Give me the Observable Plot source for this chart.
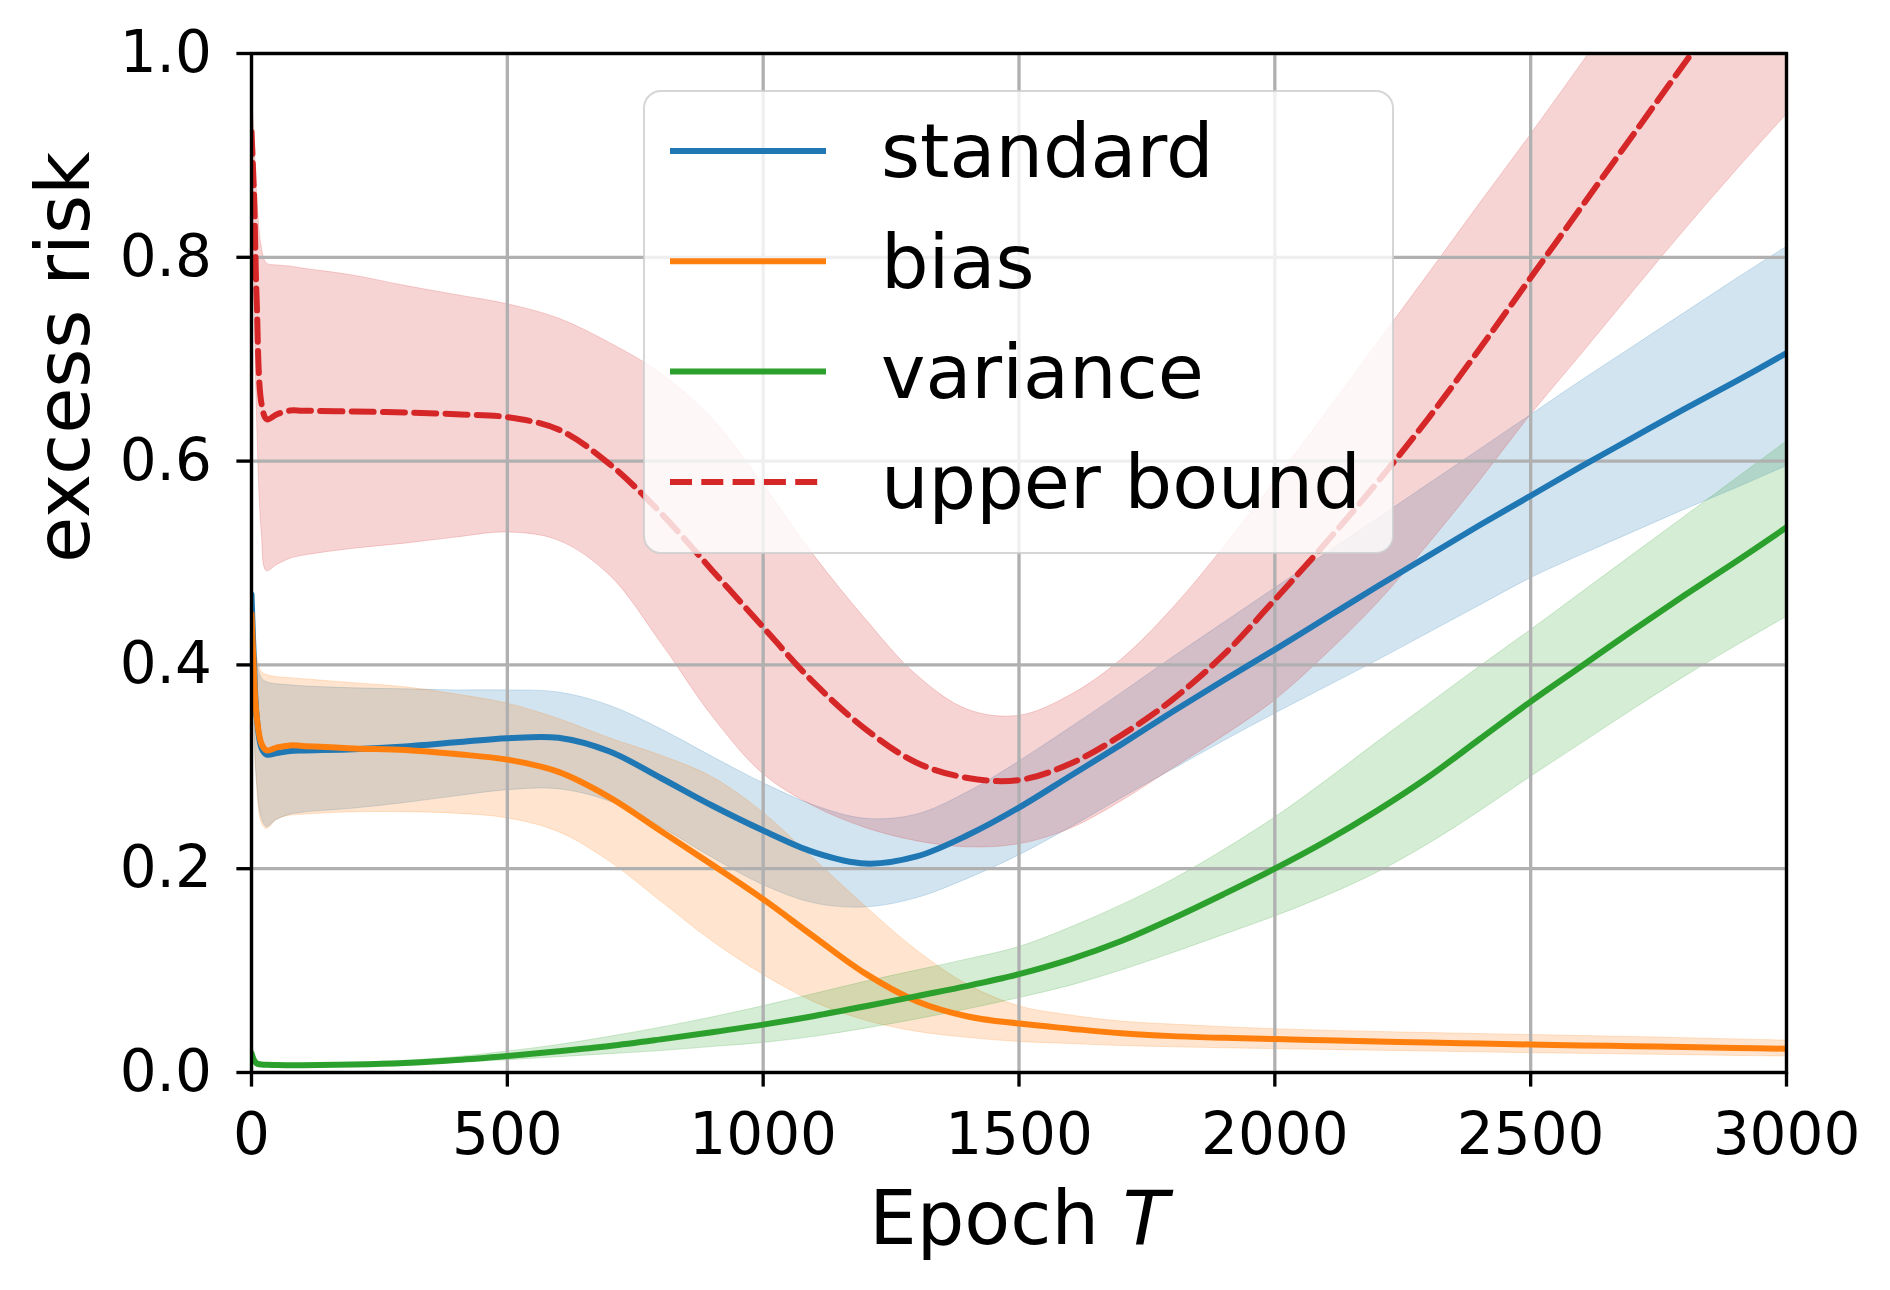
<!DOCTYPE html>
<html><head><meta charset="utf-8">
<script src="https://cdn.jsdelivr.net/npm/d3@7"></script>
<script src="https://cdn.jsdelivr.net/npm/@observablehq/plot@0.6"></script>
<style>
html,body{margin:0;padding:0;background:#fff;}
#wrap{position:relative;width:1890px;height:1290px;font-family:"DejaVu Sans";}
#legend{position:absolute;left:643px;top:90px;}
</style></head><body><div id="wrap"></div>
<script>
// ---- data ----
const epochs = [0,5,10,20,30,50,75,100,200,300,400,500,600,700,800,900,1000,1100,1200,1300,1400,1500,1600,1700,1800,1900,2000,2100,2200,2300,2400,2500,2600,2700,2800,2900,3000];

const standard   = [0.469,0.40,0.35,0.318,0.312,0.3135,0.3154,0.316,0.3173,0.320,0.324,0.328,0.3285,0.315,0.289,0.262,0.2375,0.216,0.205,0.212,0.233,0.260,0.291,0.322,0.354,0.385,0.415,0.446,0.477,0.507,0.537,0.566,0.595,0.623,0.651,0.678,0.706];
const standardLo = [0.465,0.36,0.29,0.25,0.241,0.248,0.253,0.255,0.259,0.2645,0.271,0.277,0.278,0.266,0.241,0.211,0.184,0.166,0.162,0.171,0.19,0.213,0.24,0.269,0.297,0.325,0.352,0.378,0.404,0.431,0.458,0.485,0.508,0.53,0.552,0.573,0.595];
const standardHi = [0.472,0.43,0.405,0.387,0.383,0.381,0.38,0.379,0.377,0.376,0.375,0.375,0.373,0.36,0.337,0.31,0.284,0.262,0.249,0.253,0.275,0.305,0.338,0.372,0.407,0.441,0.475,0.509,0.543,0.577,0.611,0.645,0.679,0.712,0.745,0.778,0.81];

const bias   = [0.45,0.39,0.35,0.322,0.316,0.319,0.321,0.3205,0.318,0.3165,0.3125,0.307,0.295,0.27,0.237,0.204,0.17,0.133,0.097,0.07,0.055,0.048,0.043,0.0385,0.0357,0.034,0.0328,0.0316,0.0305,0.0294,0.0284,0.0275,0.0266,0.0258,0.025,0.0241,0.0233];
const biasLo = [0.44,0.35,0.29,0.245,0.239,0.248,0.252,0.253,0.2554,0.2555,0.254,0.2495,0.236,0.207,0.168,0.129,0.096,0.069,0.051,0.04,0.034,0.03,0.028,0.026,0.0248,0.0238,0.023,0.0222,0.0214,0.0206,0.0198,0.019,0.0183,0.0177,0.017,0.0163,0.0157];
const biasHi = [0.46,0.43,0.41,0.393,0.39,0.388,0.387,0.386,0.382,0.378,0.371,0.362,0.347,0.328,0.311,0.29,0.255,0.209,0.163,0.12,0.086,0.065,0.056,0.05,0.047,0.0445,0.0425,0.041,0.0398,0.0387,0.0377,0.0368,0.0358,0.0348,0.0337,0.0325,0.0313];

const variance   = [0.019,0.012,0.009,0.0078,0.0075,0.0073,0.0072,0.0072,0.0078,0.0093,0.0122,0.0162,0.0208,0.026,0.0325,0.0395,0.047,0.0555,0.065,0.075,0.085,0.0965,0.111,0.129,0.151,0.175,0.2,0.227,0.257,0.29,0.327,0.364,0.399,0.434,0.468,0.501,0.535];
const varianceLo = [0.018,0.01,0.0075,0.0068,0.0065,0.0062,0.006,0.006,0.006,0.007,0.0095,0.012,0.015,0.018,0.021,0.025,0.029,0.035,0.043,0.052,0.062,0.073,0.085,0.1,0.117,0.135,0.153,0.173,0.196,0.224,0.256,0.29,0.323,0.356,0.388,0.418,0.447];
const varianceHi = [0.02,0.014,0.0105,0.0088,0.0085,0.0085,0.0085,0.0086,0.0095,0.0115,0.015,0.0205,0.027,0.035,0.044,0.054,0.065,0.077,0.089,0.1,0.111,0.123,0.142,0.164,0.189,0.218,0.25,0.286,0.324,0.361,0.398,0.434,0.471,0.508,0.545,0.582,0.619];

const bound   = [0.923,0.86,0.76,0.655,0.641,0.646,0.6496,0.6495,0.6486,0.6478,0.646,0.6431,0.631,0.597,0.549,0.493,0.437,0.382,0.337,0.304,0.289,0.287,0.303,0.331,0.366,0.41,0.464,0.52,0.579,0.642,0.71,0.78,0.85,0.92,0.99,1.06,1.13];
const boundLo = [0.91,0.8,0.66,0.53,0.492,0.498,0.504,0.507,0.514,0.519,0.525,0.53,0.522,0.488,0.422,0.35,0.293,0.261,0.24,0.227,0.221,0.224,0.239,0.266,0.298,0.33,0.365,0.41,0.46,0.518,0.58,0.645,0.705,0.766,0.826,0.884,0.94];
const boundHi = [0.96,0.93,0.87,0.81,0.794,0.792,0.791,0.789,0.782,0.772,0.763,0.754,0.74,0.716,0.686,0.642,0.577,0.507,0.445,0.39,0.356,0.35,0.37,0.405,0.455,0.515,0.58,0.647,0.715,0.783,0.852,0.92,0.99,1.06,1.13,1.2,1.27];

const seriesNames  = ["standard", "bias", "variance", "upper bound"];
const seriesColors = ["#1f77b4", "#ff7f0e", "#2ca02c", "#d62728"];
const seriesMean = [standard, bias, variance, bound];
const seriesLo   = [standardLo, biasLo, varianceLo, boundLo];
const seriesHi   = [standardHi, biasHi, varianceHi, boundHi];

const xTicks = [0, 500, 1000, 1500, 2000, 2500, 3000];
const yTicks = [0, 0.2, 0.4, 0.6, 0.8, 1.0];
const xLabel = "Epoch T";
const yLabel = "excess risk";

// ---- table for Plot ----
const rows = [];
seriesNames.forEach((name, s) => {
  epochs.forEach((T, i) => rows.push({series: name, T, mean: seriesMean[s][i], lo: seriesLo[s][i], hi: seriesHi[s][i]}));
});

const LW = 6;
const GRID = 3.33;
const dash = "22,9.3";
const CURVE = "catmull-rom";

const areaMarks = seriesNames.map((name, s) =>
  Plot.areaY(rows.filter(d => d.series === name), {
    x: "T", y1: "lo", y2: "hi", curve: CURVE,
    fill: seriesColors[s], fillOpacity: 0.2,
    stroke: seriesColors[s], strokeOpacity: 0.2, strokeWidth: 1, clip: true
  }));
const lineMarks = seriesNames.map((name, s) =>
  Plot.lineY(rows.filter(d => d.series === name), {
    x: "T", y: "mean", curve: CURVE,
    stroke: seriesColors[s], strokeWidth: LW,
    strokeDasharray: name === "upper bound" ? dash : null,
    clip: true
  }));

const chart = Plot.plot({
  width: 1890, height: 1290,
  marginLeft: 251, marginRight: 104, marginTop: 53, marginBottom: 218,
  style: {fontFamily: "DejaVu Sans", background: "white", color: "black"},
  x: {domain: [0, 3000]},
  y: {domain: [0, 1]},
  marks: [
    ...areaMarks,
    Plot.gridX(xTicks, {stroke: "#b0b0b0", strokeOpacity: 1, strokeWidth: GRID}),
    Plot.gridY(yTicks, {stroke: "#b0b0b0", strokeOpacity: 1, strokeWidth: GRID}),
    ...lineMarks,
    Plot.axisX(xTicks, {tickSize: 14.6, tickPadding: 26, fontSize: 58, strokeWidth: GRID,
      tickFormat: d3.format("d"), label: null}),
    Plot.axisY(yTicks, {tickSize: 14.6, tickPadding: 25, fontSize: 58, strokeWidth: GRID,
      tickFormat: d3.format(".1f"), label: null}),
    Plot.frame({stroke: "black", strokeWidth: GRID}),
    Plot.text([xLabel], {frameAnchor: "bottom", dy: 171, lineAnchor: "bottom", fontSize: 75, fill: "black"}),
    Plot.text([yLabel], {frameAnchor: "left", dx: -162.7, rotate: -90, lineAnchor: "bottom", fontSize: 75, fill: "black"})
  ]
});

document.getElementById("wrap").appendChild(chart);

// italic T in the x label
d3.select(chart).selectAll("text").filter(function() { return this.textContent === xLabel; })
  .each(function() {
    const t = d3.select(this);
    const parts = xLabel.split(" ");
    t.text(null);
    t.append("tspan").text(parts[0] + " ");
    t.append("tspan").attr("font-style", "italic").text(parts[1]);
  });

// legend overlay (inside the axes, upper middle)
const lg = d3.select("#wrap").append("svg").attr("id", "legend").attr("width", 752).attr("height", 465);
lg.append("rect").attr("x", 1).attr("y", 1).attr("width", 749).attr("height", 462).attr("rx", 17)
  .attr("fill", "white").attr("fill-opacity", 0.8)
  .attr("stroke", "#cccccc").attr("stroke-opacity", 0.8).attr("stroke-width", 2);
seriesNames.forEach((name, i) => {
  const yy = 61 + i * 110.3;
  lg.append("line").attr("x1", 27).attr("x2", 183).attr("y1", yy).attr("y2", yy)
    .attr("stroke", seriesColors[i]).attr("stroke-width", LW)
    .attr("stroke-dasharray", name === "upper bound" ? dash : null);
  lg.append("text").attr("x", 238).attr("y", yy + 26.3).attr("font-size", 75)
    .attr("font-family", "DejaVu Sans").attr("fill", "black").text(name);
});
</script></body></html>
